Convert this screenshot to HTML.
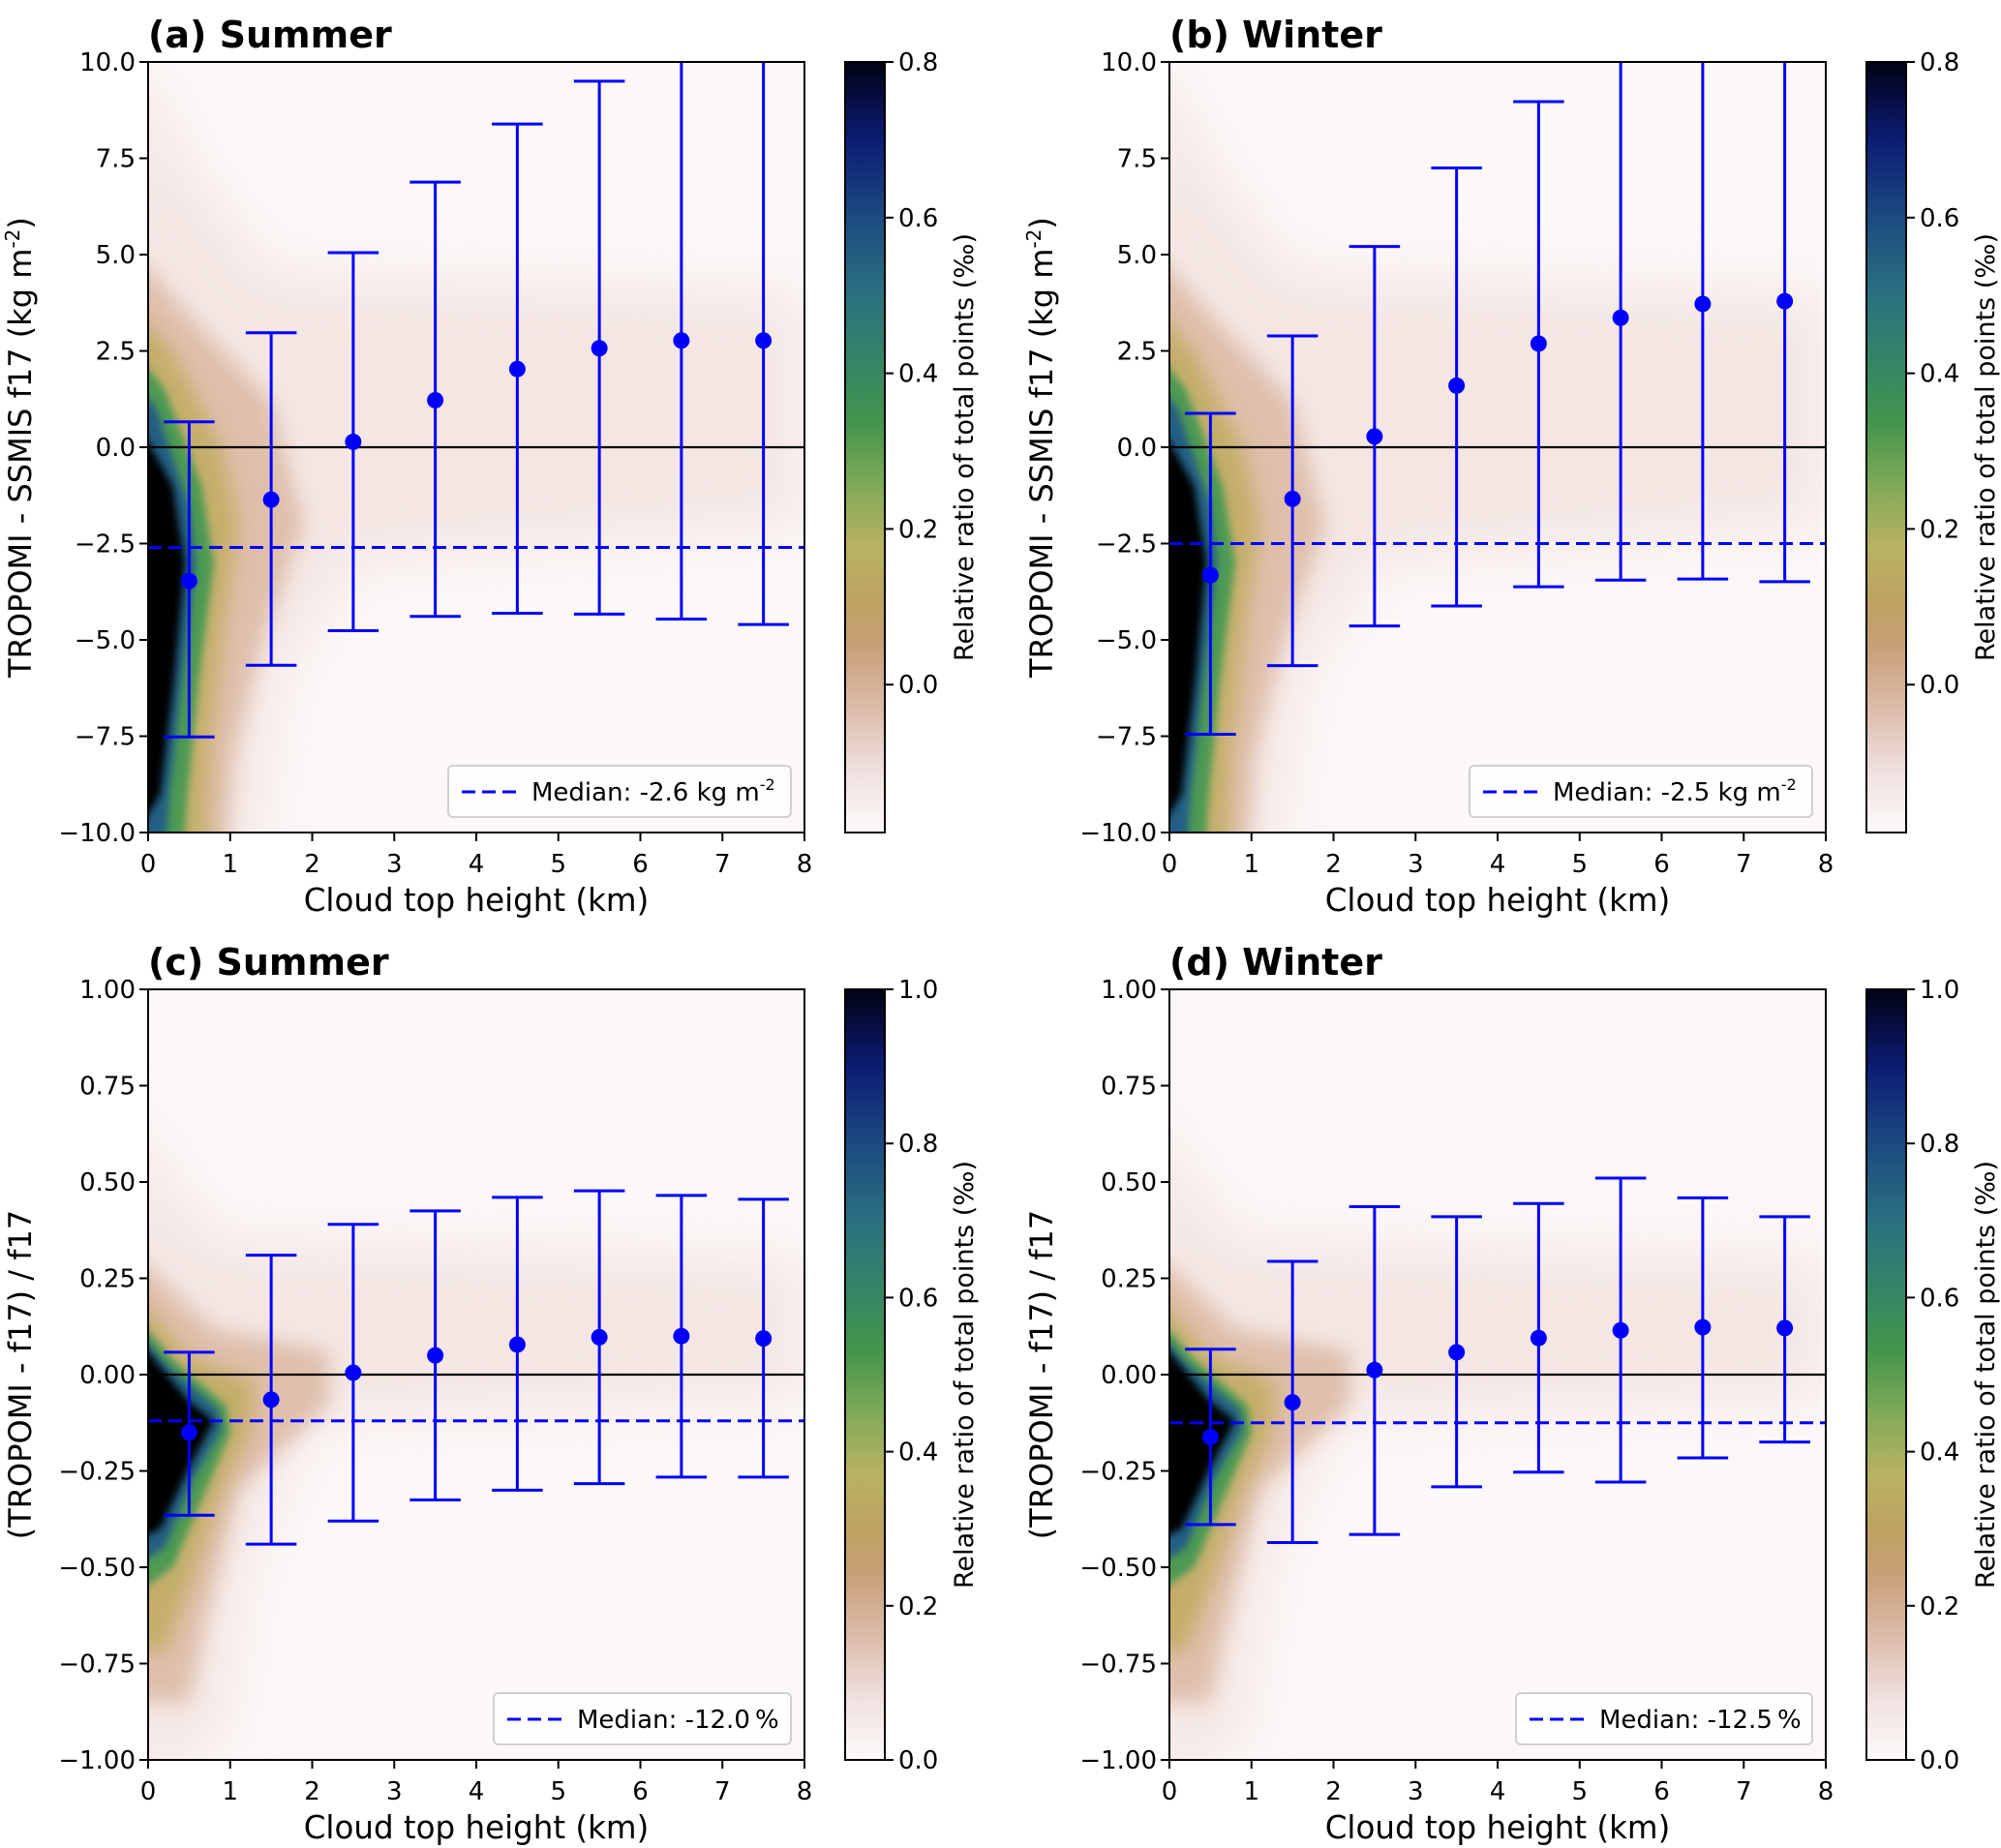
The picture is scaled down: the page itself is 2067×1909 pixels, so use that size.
<!DOCTYPE html>
<html><head><meta charset="utf-8"><style>
html,body{margin:0;padding:0;background:#fff;}
svg{display:block;font-family:"DejaVu Sans","Liberation Sans",sans-serif;}
</style></head><body>
<svg id="fig" xmlns="http://www.w3.org/2000/svg" width="2067" height="1909" viewBox="0 0 2067 1909">
<defs>
<linearGradient id="cmap" x1="0" y1="1" x2="0" y2="0">
<stop offset="0" stop-color="#fdfafa"/>
<stop offset="0.08" stop-color="#efe0de"/>
<stop offset="0.16" stop-color="#dcbcaa"/>
<stop offset="0.24" stop-color="#c8a078"/>
<stop offset="0.30" stop-color="#bfa262"/>
<stop offset="0.37" stop-color="#b8b262"/>
<stop offset="0.45" stop-color="#80aa58"/>
<stop offset="0.53" stop-color="#44954c"/>
<stop offset="0.62" stop-color="#328468"/>
<stop offset="0.70" stop-color="#2a7080"/>
<stop offset="0.80" stop-color="#1c4a80"/>
<stop offset="0.90" stop-color="#0c1c74"/>
<stop offset="1" stop-color="#020214"/>
</linearGradient>
<filter id="b3" x="-20%" y="-20%" width="140%" height="140%"><feGaussianBlur stdDeviation="4"/></filter>
<filter id="b8" x="-20%" y="-20%" width="140%" height="140%"><feGaussianBlur stdDeviation="10"/></filter>
<filter id="b20" x="-30%" y="-30%" width="160%" height="160%"><feGaussianBlur stdDeviation="28"/></filter>
</defs>
</svg>
<script>
// ---- data ----
const xCenters = [0.5,1.5,2.5,3.5,4.5,5.5,6.5,7.5];
const meanA = [-3.47,-1.36,0.14,1.22,2.03,2.57,2.77,2.77];
const upA   = [0.66,2.97,5.05,6.88,8.39,9.5,11,11];
const lowA  = [-7.52,-5.66,-4.76,-4.39,-4.31,-4.33,-4.46,-4.6];
const medianA = -2.6;
const meanB = [-3.32,-1.34,0.28,1.6,2.69,3.36,3.72,3.79];
const upB   = [0.88,2.89,5.21,7.25,8.97,11,11,11];
const lowB  = [-7.45,-5.67,-4.64,-4.12,-3.62,-3.45,-3.42,-3.49];
const medianB = -2.5;
const meanC = [-0.15,-0.065,0.005,0.05,0.078,0.097,0.1,0.094];
const upC   = [0.058,0.31,0.39,0.425,0.46,0.477,0.465,0.455];
const lowC  = [-0.365,-0.44,-0.38,-0.325,-0.30,-0.283,-0.266,-0.266];
const medianC = -0.12;
const meanD = [-0.162,-0.072,0.012,0.058,0.095,0.115,0.123,0.121];
const upD   = [0.066,0.294,0.436,0.41,0.444,0.51,0.459,0.41];
const lowD  = [-0.389,-0.436,-0.415,-0.291,-0.253,-0.279,-0.216,-0.175];
const medianD = -0.125;
const xTicks = [0,1,2,3,4,5,6,7,8];
const yTicksTop = [-10,-7.5,-5,-2.5,0,2.5,5,7.5,10];
const yTicksBot = [-1,-0.75,-0.5,-0.25,0,0.25,0.5,0.75,1];
const cbTicksTop = [0,0.2,0.4,0.6,0.8];
const cbTicksBot = [0,0.2,0.4,0.6,0.8,1.0];
// density contour outlines (x km, y value)
const densTopPink = [[0,10],[0.6,7],[1.5,4.5],[8,4],[8,-2],[2.5,-3],[1.6,-6],[1.3,-10],[0,-10]];
const densTopTan = [[0,5.5],[0.6,3.2],[1.5,1.2],[1.9,-2],[1.4,-5],[1.05,-8],[0.95,-10],[0,-10]];
const densTopYel = [[0,4],[0.3,2.5],[0.9,0],[1.1,-2],[0.9,-5],[0.75,-8],[0.7,-10],[0,-10]];
const densTopGrn = [[0,3],[0.2,1.5],[0.65,-1],[0.8,-3],[0.62,-6],[0.48,-9],[0.42,-10],[0,-10]];
const densTopBlu = [[0,2.2],[0.1,1],[0.5,-1.5],[0.58,-3],[0.42,-6],[0.26,-9],[0.2,-10],[0,-10]];
const densTopBlk = [[0,1.5],[0.3,-1],[0.45,-3],[0.32,-6],[0.15,-9],[0,-10]];
const densBotPink = [[0,0.7],[0.8,0.35],[8,0.3],[8,-0.06],[2,-0.12],[1.2,-0.5],[0.9,-0.95],[0,-1]];
const densBotTan = [[0,0.35],[0.8,0.12],[2.2,0.06],[2.2,-0.08],[1.1,-0.3],[0.7,-0.65],[0.5,-0.85],[0,-0.85]];
const densBotYel = [[0,0.25],[0.5,0.05],[1.3,-0.02],[1.25,-0.15],[0.9,-0.3],[0.5,-0.55],[0.2,-0.72],[0,-0.72]];
const densBotGrn = [[0,0.2],[0.3,0.04],[0.95,-0.08],[1.0,-0.15],[0.7,-0.3],[0.3,-0.5],[0,-0.6]];
const densBotBlu = [[0,0.17],[0.2,0.03],[0.85,-0.09],[0.9,-0.14],[0.55,-0.27],[0.2,-0.45],[0,-0.52]];
const densBotBlk = [[0,0.15],[0.15,0.02],[0.5,-0.07],[0.8,-0.12],[0.5,-0.24],[0.15,-0.4],[0,-0.45]];

const NS = "http://www.w3.org/2000/svg";
const svg = document.getElementById('fig');
function mk(tag, attrs, parent){const e=document.createElementNS(NS,tag);for(const k in attrs)e.setAttribute(k,attrs[k]);(parent||svg).appendChild(e);return e;}
function fmtTick(v,d){return (v<0?'\u2212':'')+Math.abs(v).toFixed(d);}

const panels = [
 {id:'a',title:'(a) Summer',x0:153,x1:831,y0:64,y1:860,ymin:-10,ymax:10,yt:yTicksTop,yd:1,mean:meanA,up:upA,low:lowA,med:medianA,cbx:873,cbmin:-0.19,cbmax:0.8,cbt:cbTicksTop,ylab:'TROPOMI - SSMIS f17  (kg m',medtxt:'Median: -2.6',lx:463,lw:354,top:true},
 {id:'b',title:'(b) Winter',x0:1208,x1:1886,y0:64,y1:860,ymin:-10,ymax:10,yt:yTicksTop,yd:1,mean:meanB,up:upB,low:lowB,med:medianB,cbx:1928,cbmin:-0.19,cbmax:0.8,cbt:cbTicksTop,ylab:'TROPOMI - SSMIS f17 (kg m',medtxt:'Median: -2.5',lx:1518,lw:354,top:true},
 {id:'c',title:'(c) Summer',x0:153,x1:831,y0:1022,y1:1818,ymin:-1,ymax:1,yt:yTicksBot,yd:2,mean:meanC,up:upC,low:lowC,med:medianC,cbx:873,cbmin:0,cbmax:1,cbt:cbTicksBot,ylab:'(TROPOMI - f17) / f17',medtxt:'Median: -12.0\u2009%',lx:510,lw:307,top:false},
 {id:'d',title:'(d) Winter',x0:1208,x1:1886,y0:1022,y1:1818,ymin:-1,ymax:1,yt:yTicksBot,yd:2,mean:meanD,up:upD,low:lowD,med:medianD,cbx:1928,cbmin:0,cbmax:1,cbt:cbTicksBot,ylab:'(TROPOMI - f17) / f17',medtxt:'Median: -12.5\u2009%',lx:1566,lw:306,top:false}
];

panels.forEach(p=>{
 const X = v => p.x0 + (v-0)/(8-0)*(p.x1-p.x0);
 const Y = v => p.y1 - (v-p.ymin)/(p.ymax-p.ymin)*(p.y1-p.y0);
 const g = mk('g',{});
 
 
 const cp = mk('clipPath',{id:'clip'+p.id},g);
 mk('rect',{x:p.x0,y:p.y0,width:p.x1-p.x0,height:p.y1-p.y0},cp);
 const plot = mk('g',{'clip-path':'url(#clip'+p.id+')'},g);
 mk('rect',{x:p.x0,y:p.y0,width:p.x1-p.x0,height:p.y1-p.y0,fill:'#fcf8f8'},plot);
 const hm = mk('g',{},plot);
 
 
 const layers = p.top ?
  [[densTopPink,'#f1e2de','b20',0.8],[densTopTan,'#ddbba6','b8',0.9],[densTopYel,'#c2ad66','b8',0.95],[densTopGrn,'#4e9a52','b3',1],[densTopBlu,'#245e84','b3',1],[densTopBlk,'#000','b3',1]] :
  [[densBotPink,'#f1e2de','b20',0.8],[densBotTan,'#ddbba6','b8',0.9],[densBotYel,'#c2ad66','b8',0.95],[densBotGrn,'#4e9a52','b3',1],[densBotBlu,'#245e84','b3',1],[densBotBlk,'#000','b3',1]];
 layers.forEach(L=>{
  const pts = L[0].map(q=>[q[0]===0?X(0)-30:X(q[0]), q[1]===p.ymin?Y(q[1])+30:(q[1]===p.ymax?Y(q[1])-30:Y(q[1]))]);
  const pl = mk('polygon',{points:pts.map(q=>q.join(',')).join(' '),fill:L[1],filter:'url(#'+L[2]+')',opacity:L[3]},hm);
  
  
 });
 const zl = mk('line',{x1:p.x0,x2:p.x1,y1:Y(0),y2:Y(0),stroke:'#000','stroke-width':2.2},plot);
 
 
 const ml = mk('line',{x1:p.x0,x2:p.x1,y1:Y(p.med),y2:Y(p.med),stroke:'#0000ff','stroke-width':3,'stroke-dasharray':'14 7'},plot);
 
 
 xCenters.forEach((xc,i)=>{
  const eg = mk('g',{},plot);
  
  
  const cx = X(xc), hw = X(0.31)-X(0);
  mk('line',{x1:cx,x2:cx,y1:Y(p.up[i]),y2:Y(p.low[i]),stroke:'#0000ff','stroke-width':3},eg);
  mk('line',{x1:cx-hw,x2:cx+hw,y1:Y(p.up[i]),y2:Y(p.up[i]),stroke:'#0000ff','stroke-width':3},eg);
  mk('line',{x1:cx-hw,x2:cx+hw,y1:Y(p.low[i]),y2:Y(p.low[i]),stroke:'#0000ff','stroke-width':3},eg);
  const dot = mk('circle',{cx:cx,cy:Y(p.mean[i]),r:8.5,fill:'#0000ff'},eg);
  
  
 });
 const fr = mk('rect',{x:p.x0,y:p.y0,width:p.x1-p.x0,height:p.y1-p.y0,fill:'none',stroke:'#000','stroke-width':2},g);
 
 
 xTicks.forEach(t=>{
  mk('line',{x1:X(t),x2:X(t),y1:p.y1,y2:p.y1+9,stroke:'#000','stroke-width':2},g);
  const tx = mk('text',{x:X(t),y:p.y1+41,'font-size':26,'text-anchor':'middle',fill:'#000'},g);
  tx.textContent = t;
  
  
 });
 p.yt.forEach(t=>{
  mk('line',{x1:p.x0-9,x2:p.x0,y1:Y(t),y2:Y(t),stroke:'#000','stroke-width':2},g);
  const ty = mk('text',{x:p.x0-13,y:Y(t)+9,'font-size':26,'text-anchor':'end',fill:'#000'},g);
  ty.textContent = fmtTick(t,p.yd);
  
  
 });
 const xl = mk('text',{x:(p.x0+p.x1)/2,y:p.y1+81,'font-size':32.5,'text-anchor':'middle',fill:'#000'},g);
 xl.textContent = 'Cloud top height (km)';
 
 
 const ylx = p.x0-121, ylc=(p.y0+p.y1)/2;
 const yl = mk('text',{x:ylx,y:ylc,'font-size':32,'text-anchor':'middle',fill:'#000',transform:'rotate(-90 '+ylx+' '+ylc+')'},g);
 
 
 if(p.top){
  yl.appendChild(document.createTextNode(p.ylab));
  const s = mk('tspan',{'font-size':20,dy:-12},yl); s.textContent='-2';
  const s2 = mk('tspan',{dy:12},yl); s2.textContent=')';
 } else yl.textContent = p.ylab;
 const tt = mk('text',{x:p.x0,y:p.y0-15,'font-size':38,'font-weight':'bold',fill:'#000'},g);
 tt.textContent = p.title;
 
 
 const lg = mk('g',{},g);
 
 
 const ly = p.y1-69;
 mk('rect',{x:p.lx,y:ly,width:p.lw,height:53,rx:5,fill:'#fff','fill-opacity':0.85,stroke:'#d0d0d0','stroke-width':2},lg);
 mk('line',{x1:p.lx+14,x2:p.lx+70,y1:ly+27,y2:ly+27,stroke:'#0000ff','stroke-width':3,'stroke-dasharray':'14 7'},lg);
 const lt = mk('text',{x:p.lx+86,y:ly+36,'font-size':26,fill:'#000'},lg);
 
 
 if(p.top){
  lt.appendChild(document.createTextNode(p.medtxt+' kg m'));
  const s3 = mk('tspan',{'font-size':16,dy:-11},lt); s3.textContent='-2';
 } else lt.textContent = p.medtxt;
 const cb = mk('g',{},g);
 
 
 const CY = v => p.y1 - (v-p.cbmin)/(p.cbmax-p.cbmin)*(p.y1-p.y0);
 mk('rect',{x:p.cbx,y:p.y0,width:41,height:p.y1-p.y0,fill:'url(#cmap)',stroke:'#000','stroke-width':2},cb);
 p.cbt.forEach(t=>{
  mk('line',{x1:p.cbx+41,x2:p.cbx+50,y1:CY(t),y2:CY(t),stroke:'#000','stroke-width':2},cb);
  const ct = mk('text',{x:p.cbx+55,y:CY(t)+9,'font-size':26,fill:'#000'},cb);
  ct.textContent = t.toFixed(1);
  
  
 });
 const clx = p.cbx+132, clc=(p.y0+p.y1)/2;
 const cl = mk('text',{x:clx,y:clc,'font-size':27,'text-anchor':'middle',fill:'#000',transform:'rotate(-90 '+clx+' '+clc+')'},cb);
 cl.textContent = 'Relative ratio of total points (\u2030)';
 
 
});
</script>
</body></html>
